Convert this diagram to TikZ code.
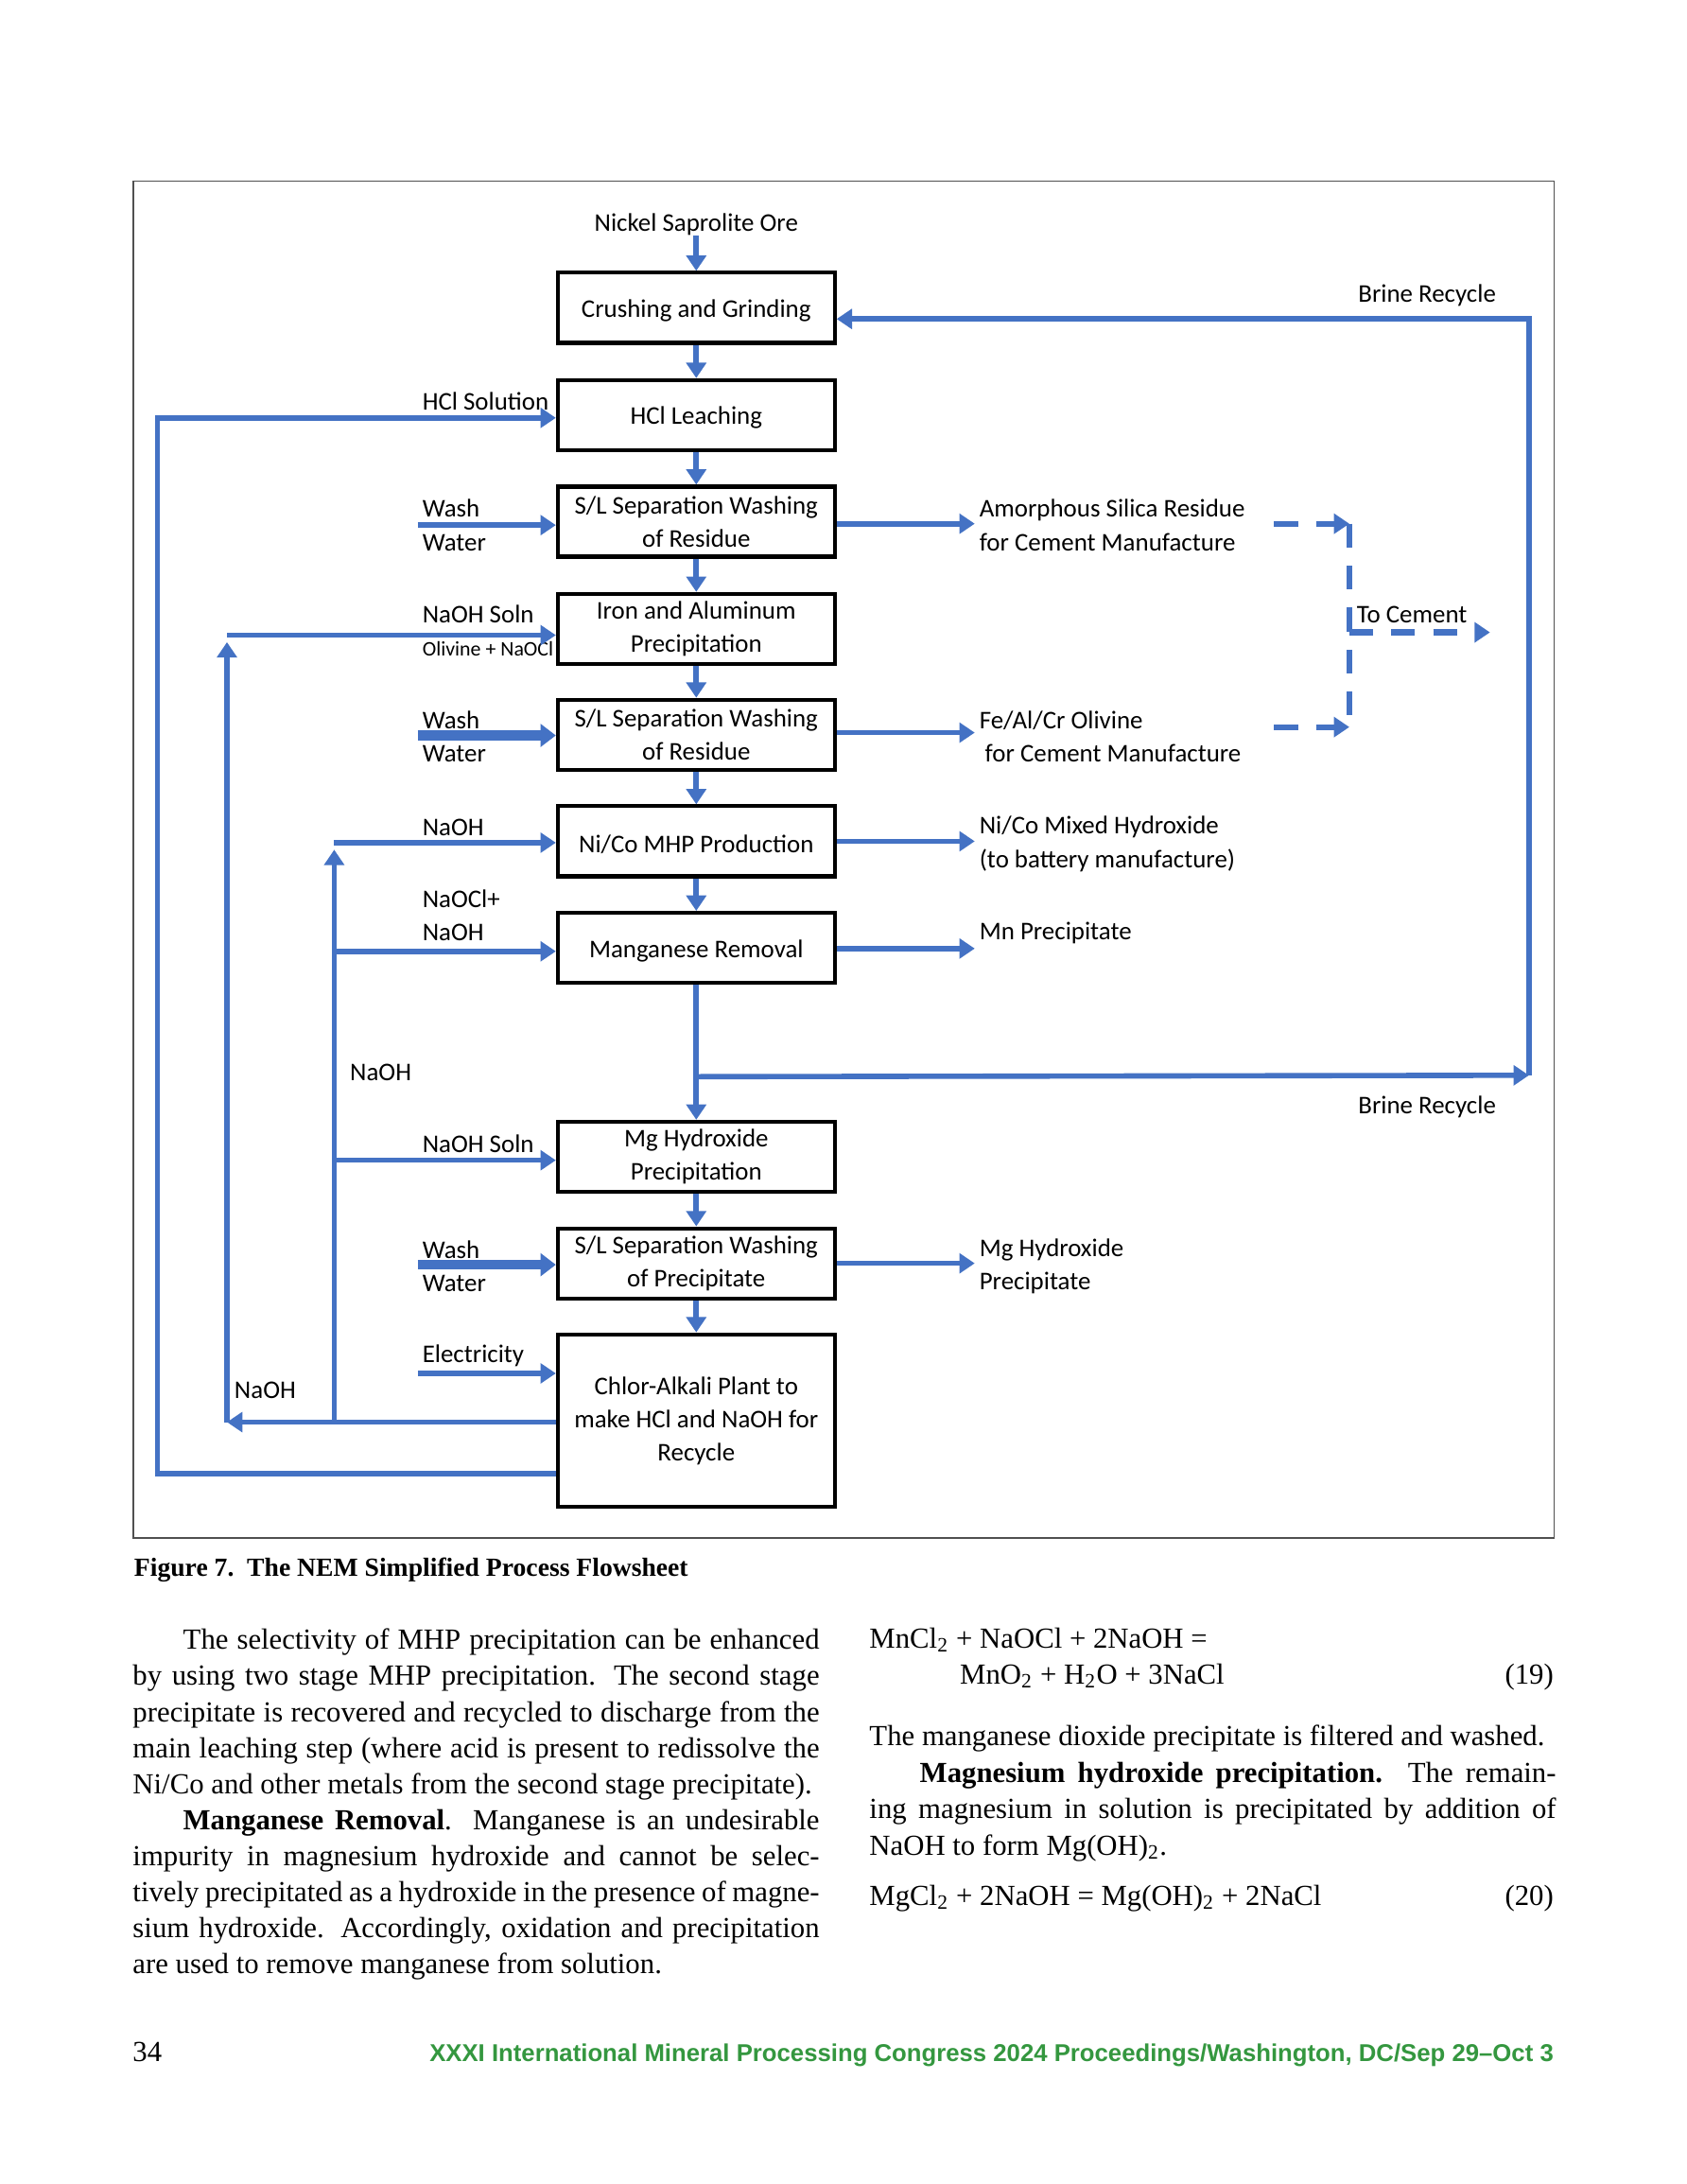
\documentclass[tikz,border=0pt]{standalone}
\usepackage{fontspec}
\setmainfont{Liberation Serif}
\newfontfamily\flowfont{Carlito}
\newfontfamily\footerfont{Liberation Sans}
\usetikzlibrary{positioning, arrows.meta, calc}
\definecolor{flowblue}{HTML}{4472C4}
\definecolor{footgreen}{HTML}{34973F}
\definecolor{framegray}{HTML}{505050}
\tikzset{
  procbox/.style={
    rectangle,
    draw=black,
    line width=1.4pt,
    minimum width=3.48cm,
    minimum height=0.88cm,
    align=center,
    font=\flowfont\fontsize{9.1}{11.9}\selectfont,
    execute at begin node={\rule{0pt}{8.4pt}},
    inner sep=2pt
  },
  streamlabel/.style={
    anchor=west,
    inner sep=0pt,
    align=left,
    font=\flowfont\fontsize{9.1}{11.9}\selectfont
  },
  flowline/.style={
    draw=flowblue,
    line width=1.9pt
  },
  flowarrow/.style={
    flowline,
    -{Triangle[length=5.5pt,width=7pt]}
  },
  outarrow/.style={
    flowarrow,
    shorten >=1.5pt
  },
  washarrow/.style={
    flowarrow,
    line width=3.5pt,
    -{Triangle[length=5.5pt,width=8pt]}
  },
  dashline/.style={
    flowline,
    line width=2.1pt,
    dash pattern=on 8.5pt off 6.5pt
  },
  dasharrow/.style={
    dashline,
    -{Triangle[length=5.5pt,width=7pt]}
  },
  bodytext/.style={
    anchor=north west,
    inner sep=0pt,
    text width=8.63cm,
    align=justify,
    font=\fontsize{10.4}{12.9}\selectfont
  },
  bodyline/.style={
    anchor=base west,
    inner sep=0pt,
    font=\fontsize{10.4}{12.9}\selectfont
  }
}

\begin{document}
\begin{tikzpicture}[x=0.0175cm, y=-0.0175cm]
  \useasboundingbox[fill=white] (0,0) rectangle (1211,1568);
  % frame round the flowsheet
  \draw[framegray, line width=0.6pt] (96,130) rectangle (1116,1104);

  % main process column
  \node[procbox] (crush) at (500,221) {Crushing and Grinding};
  \node[procbox] (leach) at (500,298) {HCl Leaching};
  \node[procbox] (sep1) at (500,374.5) {S/L Separation Washing\\of Residue};
  \node[procbox] (feal) at (500,451.5) {Iron and Aluminum\\Precipitation};
  \node[procbox] (sep2) at (500,527.5) {S/L Separation Washing\\of Residue};
  \node[procbox] (mhp) at (500,604) {Ni/Co MHP Production};
  \node[procbox] (mnrem) at (500,680.5) {Manganese Removal};
  \node[procbox] (mgppt) at (500,830.5) {Mg Hydroxide\\Precipitation};
  \node[procbox] (sep3) at (500,907) {S/L Separation Washing\\of Precipitate};
  \node[procbox, minimum height=2.17cm] (chlor) at (500,1020)
    {Chlor-Alkali Plant to\\make HCl and NaOH for\\Recycle};

  \node[streamlabel, anchor=center] (ore) at (500,161) {Nickel Saprolite Ore};

  \draw[flowarrow] (ore) -- (crush);
  \draw[flowarrow] (crush) -- (leach);
  \draw[flowarrow] (leach) -- (sep1);
  \draw[flowarrow] (sep1) -- (feal);
  \draw[flowarrow] (feal) -- (sep2);
  \draw[flowarrow] (sep2) -- (mhp);
  \draw[flowarrow] (mhp) -- (mnrem);
  \draw[flowarrow] (mnrem) -- (mgppt);
  \draw[flowarrow] (mgppt) -- (sep3);
  \draw[flowarrow] (sep3) -- (chlor);

  % feeds on the left
  \node[streamlabel] (hclsol) at (303,288) {HCl Solution};
  \node[streamlabel] (wash1) at (303,377) {Wash\\Water};
  \node[streamlabel] (naohsoln) at (303,441) {NaOH Soln};
  \node[streamlabel, font=\flowfont\fontsize{7.4}{9}\selectfont] (olivine) at (303,466) {Olivine + NaOCl};
  \node[streamlabel] (wash2) at (303,529) {Wash\\Water};
  \node[streamlabel] (naohmhplbl) at (303,594) {NaOH};
  \node[streamlabel] (naoclnaoh) at (303,657) {NaOCl+\\NaOH};
  \node[streamlabel] (naohside) at (251,770) {NaOH};
  \node[streamlabel] (naohmglbl) at (303,821) {NaOH Soln};
  \node[streamlabel] (wash3) at (303,909) {Wash\\Water};
  \node[streamlabel] (elec) at (303,973) {Electricity};
  \node[streamlabel] (naohret) at (168,998) {NaOH};

  \coordinate (hclbot) at (113,1058);
  \coordinate (hcltop) at (113,300);
  \draw[flowarrow] (hclbot -| chlor.west) -- (hclbot) -- (hcltop) -- (hcltop -| leach.west);

  \coordinate (naohout) at (163,1021);
  \coordinate (naohfe) at (163,456);
  \coordinate (naohsplit) at (240,1021);
  \coordinate (naohmhp) at (240,605);
  \coordinate (naohmn) at (240,683);
  \coordinate (naohmg) at (240,833);
  \draw[flowarrow] (chlor.west |- naohout) -- (naohout);
  \draw[flowarrow, shorten >=2.5pt] (naohout) -- (naohfe);
  \draw[flowarrow] (naohfe) -- (naohfe -| feal.west);
  \draw[flowarrow, shorten >=2.5pt] (naohsplit) -- (naohmhp);
  \draw[flowarrow] (naohmhp) -- (naohmhp -| mhp.west);
  \draw[flowarrow] (naohmn) -- (naohmn -| mnrem.west);
  \draw[flowarrow] (naohmg) -- (naohmg -| mgppt.west);

  \coordinate (ww1) at (300,377);
  \coordinate (ww2) at (300,528);
  \coordinate (ww3) at (300,908);
  \coordinate (elecin) at (300,986);
  \draw[flowarrow] (ww1) -- (ww1 -| sep1.west);
  \draw[washarrow] (ww2) -- (ww2 -| sep2.west);
  \draw[washarrow] (ww3) -- (ww3 -| sep3.west);
  \draw[flowarrow] (elecin) -- (elecin -| chlor.west);

  % products on the right
  \node[streamlabel] (silica) at (703,377) {Amorphous Silica Residue\\for Cement Manufacture};
  \node[streamlabel] (olivres) at (703,529) {Fe/Al/Cr Olivine\\\hspace{2pt}for Cement Manufacture};
  \node[streamlabel] (mixhyd) at (703,606) {Ni/Co Mixed Hydroxide\\(to battery manufacture)};
  \node[streamlabel] (mnppt) at (703,670) {Mn Precipitate};
  \node[streamlabel] (mghyd) at (703,909) {Mg Hydroxide\\Precipitate};

  \draw[outarrow] (sep1.east |- 0,376) -- (silica.west |- 0,376);
  \draw[outarrow] (sep2.east |- 0,526) -- (olivres.west |- 0,526);
  \draw[outarrow] (mhp.east |- 0,604) -- (mixhyd.west |- 0,604);
  \coordinate (mnout) at (700,681);
  \draw[flowarrow] (mnrem.east |- mnout) -- (mnout);
  \draw[outarrow] (sep3.east |- 0,907) -- (mghyd.west |- 0,907);

  % brine recycle loop
  \node[streamlabel] (brine1) at (975,212) {Brine Recycle};
  \node[streamlabel] (brine2) at (975,795) {Brine Recycle};
  \coordinate (brjoin) at (501,773);
  \coordinate (brright) at (1098,772);
  \coordinate (brtop) at (1098,229);
  \draw[flowarrow] (brjoin) -- (brright);
  \draw[flowarrow] (brright) -- (brtop) -- (brtop -| crush.east);

  % residues to cement
  \node[streamlabel] (tocement) at (974,441) {To Cement};
  \coordinate (cem1) at (915,376);
  \coordinate (cemtop) at (969,376);
  \coordinate (cem2) at (915,522);
  \coordinate (cembot) at (969,522);
  \coordinate (cemmid) at (969,454);
  \coordinate (cemout) at (1070,454);
  \draw[dasharrow] (cem1) -- (cemtop);
  \draw[dasharrow] (cem2) -- (cembot);
  \draw[dashline] (cemtop) -- (cembot);
  \draw[dasharrow] (cemmid) -- (cemout);

  % caption, text and footer of the page
  \node[anchor=base west, inner sep=0pt, font=\bfseries\fontsize{9.35}{11}\selectfont] (caption)
    at (96,1132) {Figure 7.\ \ The NEM Simplified Process Flowsheet};

  \node[bodytext] (para1) at (95,1169)
    {\noindent\hspace*{18pt}The selectivity of MHP precipitation can be enhanced\linebreak
     by using two stage MHP precipitation. The second stage\linebreak
     precipitate is recovered and recycled to discharge from the\linebreak
     main leaching step (where acid is present to redissolve the\linebreak
     Ni/Co and other metals from the second stage precipitate).};
  \node[bodytext] (para2) at (95,1298.5)
    {\noindent\hspace*{18pt}\textbf{Manganese Removal}. Manganese is an undesirable\linebreak
     impurity in magnesium hydroxide and cannot be selec-\linebreak
     tively precipitated as a hydroxide in the presence of magne-\linebreak
     sium hydroxide. Accordingly, oxidation and precipitation\linebreak
     are used to remove manganese from solution.};

  \node[bodyline] (eq19a) at (624,1183) {MnCl\textsubscript{2} + NaOCl + 2NaOH =};
  \node[bodyline] (eq19b) at (689,1209) {MnO\textsubscript{2} + H\textsubscript{2}O + 3NaCl};
  \node[bodyline, anchor=base east] (eq19n) at (1116,1209) {(19)};
  \node[bodyline] (filtered) at (624,1253) {The manganese dioxide precipitate is filtered and washed.};
  \node[bodytext] (para3) at (624,1265)
    {\noindent\hspace*{18pt}\textbf{Magnesium hydroxide precipitation.} The remain-\linebreak
     ing magnesium in solution is precipitated by addition of\linebreak
     NaOH to form Mg(OH)\textsubscript{2}.};
  \node[bodyline] (eq20) at (624,1368) {MgCl\textsubscript{2} + 2NaOH = Mg(OH)\textsubscript{2} + 2NaCl};
  \node[bodyline, anchor=base east] (eq20n) at (1116,1368) {(20)};

  \node[bodyline] (pagenum) at (95,1480) {34};
  \node[anchor=base east, inner sep=0pt, text=footgreen,
        font=\footerfont\bfseries\fontsize{8.7}{10}\selectfont] (footer)
    at (1116,1480) {XXXI International Mineral Processing Congress 2024 Proceedings/Washington, DC/Sep 29–Oct 3};
\end{tikzpicture}
\end{document}
